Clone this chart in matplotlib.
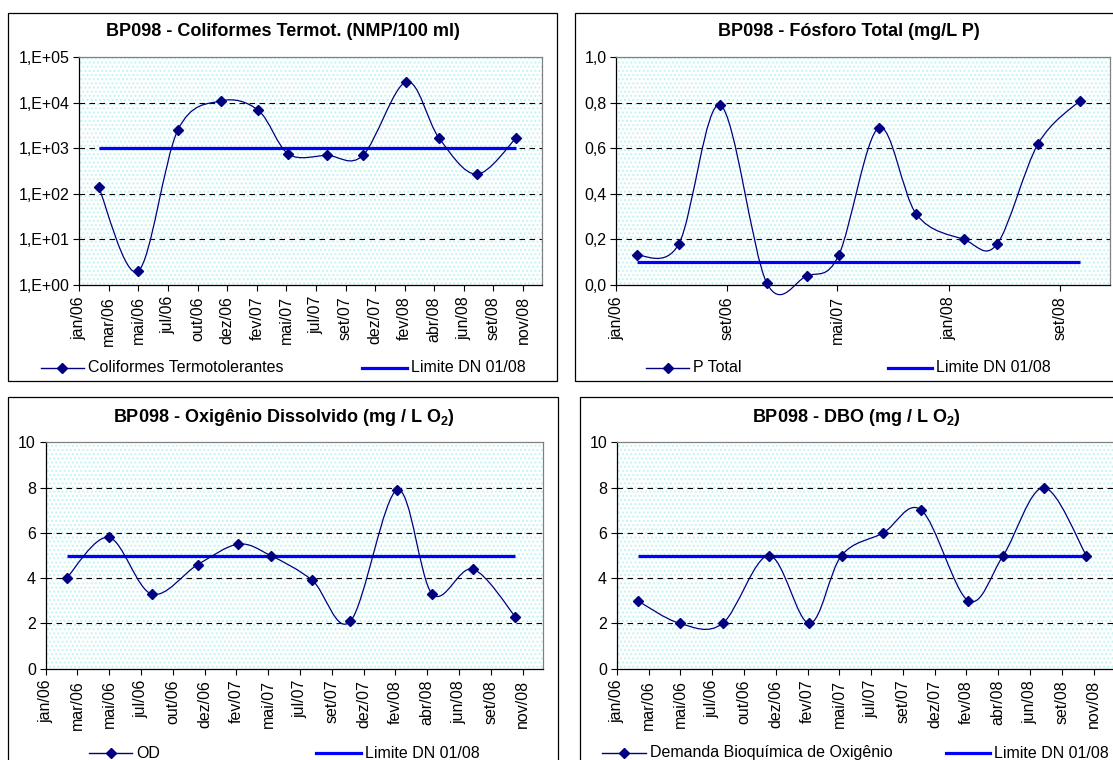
import numpy as np
import pandas as pd
import matplotlib
matplotlib.use("Agg")
import matplotlib.pyplot as plt
import matplotlib.dates as mdates
from matplotlib.path import Path
from matplotlib.patches import PathPatch, Rectangle
from matplotlib.lines import Line2D

plt.rcParams["font.family"] = ["Liberation Sans", "DejaVu Sans"]
plt.rcParams["mathtext.default"] = "regular"
plt.rcParams["hatch.linewidth"] = 1.0

W, H = 1113, 760  # tamanho em pixels (dpi 100)

# ---------- dados ----------
DATAS = ["2006-02-16", "2006-05-20", "2006-08-22", "2006-12-02", "2007-03-01", "2007-05-11",
         "2007-08-11", "2007-11-03", "2008-02-14", "2008-05-01", "2008-07-29", "2008-10-31"]
DATAS_P = ["2006-02-15", "2006-05-18", "2006-08-17", "2006-11-27", "2007-02-23", "2007-05-04",
           "2007-07-31", "2007-10-22", "2008-02-03", "2008-04-16", "2008-07-15", "2008-10-15"]

COLIFORMES = [140, 2, 2500, 11000, 6800, 750, 700, 700, 29000, 1700, 270, 1700]
FOSFORO = [0.13, 0.18, 0.79, 0.01, 0.04, 0.13, 0.69, 0.31, 0.20, 0.18, 0.62, 0.81]
OD = [4.0, 5.8, 3.3, 4.6, 5.5, 5.0, 3.9, 2.1, 7.9, 3.3, 4.4, 2.3]
DBO = [3, 2, 2, 5, 2, 5, 6, 7, 3, 5, 8, 5]

LIM_COLIF = 1000
LIM_P = 0.1
LIM_OD = 5
LIM_DBO = 5

ROT_X = ["jan/06", "mar/06", "mai/06", "jul/06", "out/06", "dez/06", "fev/07", "mai/07",
         "jul/07", "set/07", "dez/07", "fev/08", "abr/08", "jun/08", "set/08", "nov/08"]
DATAS_ROT_X = pd.date_range("2006-01-01", periods=len(ROT_X), freq="70D")
ROT_X_P = ["jan/06", "set/06", "mai/07", "jan/08", "set/08"]
DATAS_ROT_X_P = ["2006-01-01", "2006-09-01", "2007-05-01", "2008-01-01", "2008-09-01"]

AZUL_ESCURO = "#000080"
AZUL = "#0000FF"


def px2fig(x, y):
    return x / W, 1 - y / H


def curva_suave(x, y):
    # curva suavizada estilo Excel (Bezier / Catmull-Rom)
    p = np.column_stack([x, y]).astype(float)
    n = len(p)
    verts, codes = [p[0]], [Path.MOVETO]
    for i in range(n - 1):
        p0 = p[i - 1] if i > 0 else p[i]
        p3 = p[i + 2] if i + 2 < n else p[i + 1]
        verts += [p[i] + (p[i + 1] - p0) / 6, p[i + 1] - (p3 - p[i]) / 6, p[i + 1]]
        codes += [Path.CURVE4] * 3
    return np.array(verts), codes


def caixa(x0, y0, x1, y1):
    fx, fy = px2fig(x0, y1)
    fig.add_artist(Rectangle((fx, fy), (x1 - x0) / W, (y1 - y0) / H, transform=fig.transFigure,
                             fill=False, ec="black", lw=0.9))


def legenda(y, itens):
    for x0, x1, texto, cor, lw, marcador in itens:
        a, b = px2fig(x0, y)
        c, _ = px2fig(x1, y)
        fig.add_artist(Line2D([a, c], [b, b], color=cor, lw=lw, transform=fig.transFigure))
        if marcador:
            fig.add_artist(Line2D([(a + c) / 2], [b], color=cor, marker="D", ms=5.5, ls="none",
                                  transform=fig.transFigure))
        fig.text(c + 4 / W, b, texto, ha="left", va="center", fontsize=11.5)


def painel(rect, datas, valores, limite, titulo, titulo_xy, log=False,
           yticks=None, yfmt=None, xticks=None, xlabels=None, xmax=None):
    l, t, r, b = rect
    ax = fig.add_axes([l / W, 1 - b / H, (r - l) / W, (b - t) / H])
    ax.set_facecolor("white")
    ax.add_patch(Rectangle((0, 0), 1, 1, transform=ax.transAxes, facecolor="white",
                           edgecolor="#C4F4F4", hatch="....", lw=0, zorder=0))
    x = mdates.date2num(pd.to_datetime(datas))
    y = np.asarray(valores, dtype=float)
    if log:
        ax.set_yscale("log")
        v, codes = curva_suave(x, np.log10(y))
        v[:, 1] = 10 ** v[:, 1]
    else:
        v, codes = curva_suave(x, y)
    ax.add_patch(PathPatch(Path(v, codes), fill=False, ec=AZUL_ESCURO, lw=0.9, zorder=3,
                           clip_on=False))
    ax.plot(x, np.full(len(x), limite), color=AZUL, lw=2.3, zorder=2, solid_capstyle="butt")
    ax.plot(x, y, ls="none", marker="D", ms=5.5, color=AZUL_ESCURO, zorder=4, clip_on=False)

    ax.set_xlim(mdates.date2num(pd.Timestamp("2006-01-01")), mdates.date2num(pd.Timestamp(xmax)))
    ax.set_ylim(yticks[0], yticks[-1])
    ax.set_yticks(yticks)
    ax.set_yticklabels([yfmt(t_) for t_ in yticks])
    ax.minorticks_off()
    for g in yticks[1:-1]:
        ax.axhline(g, color="black", lw=0.8, ls=(0, (5, 4)), zorder=1)
    ax.set_xticks(mdates.date2num(pd.to_datetime(xticks)))
    ax.set_xticklabels(xlabels, rotation=90)
    ax.tick_params(axis="both", direction="out", length=4, width=0.8, labelsize=11.5)
    ax.tick_params(axis="y", pad=3)
    ax.tick_params(axis="x", pad=4)
    for s in ["left", "bottom"]:
        ax.spines[s].set_color("black")
        ax.spines[s].set_linewidth(0.9)
    for s in ["top", "right"]:
        ax.spines[s].set_color("#808080")
        ax.spines[s].set_linewidth(0.9)
    tx, ty = px2fig(*titulo_xy)
    fig.text(tx, ty, titulo, ha="center", va="center", fontsize=13, fontweight="bold")
    return ax


fig = plt.figure(figsize=(W / 100, H / 100), dpi=100)
fig.patch.set_facecolor("white")

caixa(8, 13, 557, 381)
caixa(575, 13, 1130, 381)
caixa(8, 397, 558, 775)
caixa(580, 397, 1135, 775)

fmt_int = lambda v: f"{v:g}"
fmt_dec = lambda v: f"{v:.1f}".replace(".", ",")
fmt_exp = lambda v: f"1,E+{int(round(np.log10(v))):02d}"

painel((79.3, 57.3, 542, 285), DATAS, COLIFORMES, LIM_COLIF,
       "BP098 - Coliformes Termot. (NMP/100 ml)", (283, 31), log=True,
       yticks=[1, 10, 100, 1000, 10000, 100000], yfmt=fmt_exp,
       xticks=DATAS_ROT_X, xlabels=ROT_X, xmax="2008-12-31")
painel((616.4, 57.3, 1110, 285), DATAS_P, FOSFORO, LIM_P,
       "BP098 - Fósforo Total (mg/L P)", (849, 31),
       yticks=[0.0, 0.2, 0.4, 0.6, 0.8, 1.0], yfmt=fmt_dec,
       xticks=DATAS_ROT_X_P, xlabels=ROT_X_P, xmax="2008-12-20")
painel((45.7, 442.3, 543, 668.7), DATAS, OD, LIM_OD,
       "BP098 - Oxigênio Dissolvido (mg / L O$_2$)", (284, 417),
       yticks=[0, 2, 4, 6, 8, 10], yfmt=fmt_int,
       xticks=DATAS_ROT_X, xlabels=ROT_X, xmax="2008-12-31")
painel((616.8, 442.3, 1114, 668.7), DATAS, DBO, LIM_DBO,
       "BP098 - DBO (mg / L O$_2$)", (856, 417),
       yticks=[0, 2, 4, 6, 8, 10], yfmt=fmt_int,
       xticks=DATAS_ROT_X, xlabels=ROT_X, xmax="2008-12-31")

legenda(368, [(41, 84, "Coliformes Termotolerantes", AZUL_ESCURO, 1.0, True),
              (362, 407, "Limite DN 01/08", AZUL, 2.3, False)])
legenda(368, [(646, 689, "P Total", AZUL_ESCURO, 1.0, True),
              (888, 932, "Limite DN 01/08", AZUL, 2.3, False)])
legenda(753, [(89, 132, "OD", AZUL_ESCURO, 1.0, True),
              (316, 361, "Limite DN 01/08", AZUL, 2.3, False)])
legenda(753, [(602, 646, "Demanda Bioquímica de Oxigênio", AZUL_ESCURO, 1.0, True),
              (946, 990, "Limite DN 01/08", AZUL, 2.3, False)])

fig.savefig("out.png", dpi=100)
